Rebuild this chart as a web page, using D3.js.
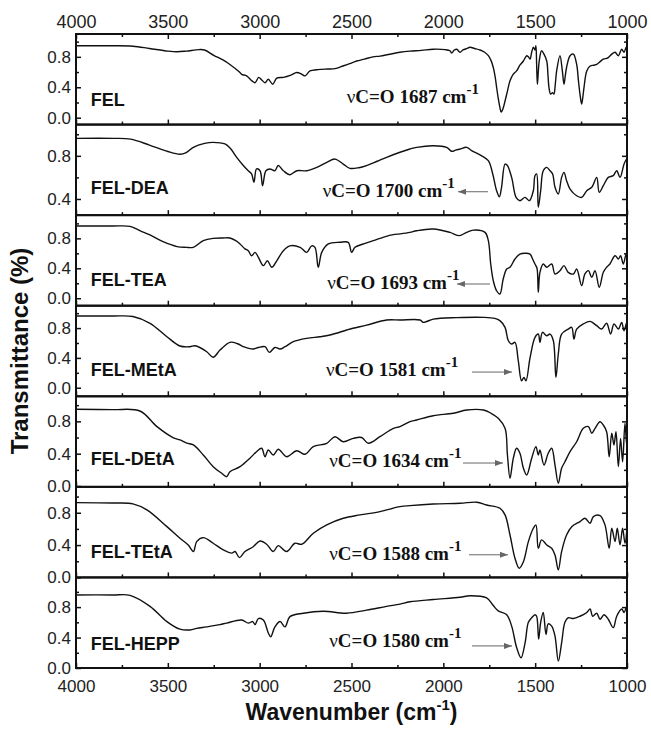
<!DOCTYPE html>
<html>
<head>
<meta charset="utf-8">
<script src="https://cdn.jsdelivr.net/npm/d3@7"></script>
<style>
body { margin: 0; background: #fff; }
</style>
</head>
<body>
<div id="container"></div>
<script>
/* Sample names, top to bottom */
const sampleNames = ["FEL", "FEL-DEA", "FEL-TEA", "FEL-MEtA", "FEL-DEtA", "FEL-TEtA", "FEL-HEPP"];
/* C=O band reported for each sample (cm-1) */
const carbonylBands = [1687, 1700, 1693, 1581, 1634, 1588, 1580];
/* x axis ticks */
const xMajorTicks = [4000, 3500, 3000, 2500, 2000, 1500, 1000];
const xMinorTicks = [3750, 3250, 2750, 2250, 1750, 1250];
/* y axis ticks */
const yMajorTicks = [0.0, 0.4, 0.8];
const yMinorTicks = [0.2, 0.6, 1.0];

/* spectra: [wavenumber, transmittance] */
const felSpectrum = [
  [4000,0.945],[3800,0.945],[3690,0.94],[3600,0.91],[3500,0.875],[3450,0.866],[3400,0.875],[3330,0.895],
  [3300,0.89],[3250,0.82],[3200,0.76],[3162,0.70],[3110,0.60],[3098,0.57],[3071,0.55],[3040,0.48],
  [3025,0.46],[3005,0.53],[2990,0.50],[2971,0.46],[2953,0.505],[2929,0.44],[2907,0.52],[2871,0.53],
  [2830,0.56],[2798,0.595],[2770,0.57],[2753,0.55],[2726,0.615],[2690,0.63],[2671,0.635],[2630,0.64],
  [2590,0.645],[2546,0.68],[2510,0.71],[2472,0.745],[2430,0.77],[2383,0.80],[2345,0.81],[2300,0.83],
  [2236,0.86],[2182,0.875],[2120,0.885],[2056,0.90],[1990,0.895],[1964,0.88],[1955,0.85],[1940,0.89],
  [1927,0.90],[1909,0.86],[1893,0.89],[1870,0.91],[1855,0.925],[1830,0.91],[1800,0.89],[1775,0.86],
  [1755,0.815],[1740,0.75],[1728,0.66],[1718,0.54],[1710,0.40],[1700,0.24],[1692,0.135],[1685,0.075],
  [1675,0.12],[1664,0.22],[1650,0.36],[1637,0.485],[1620,0.57],[1601,0.615],[1583,0.69],[1564,0.745],
  [1546,0.815],[1537,0.80],[1528,0.77],[1519,0.86],[1510,0.925],[1501,0.89],[1496,0.945],[1492,0.70],
  [1488,0.44],[1483,0.60],[1478,0.745],[1465,0.88],[1452,0.835],[1437,0.745],[1430,0.55],[1425,0.40],
  [1416,0.31],[1405,0.33],[1398,0.31],[1390,0.45],[1383,0.615],[1365,0.815],[1352,0.615],[1343,0.44],
  [1336,0.55],[1329,0.66],[1310,0.815],[1292,0.835],[1274,0.70],[1265,0.50],[1256,0.31],[1247,0.18],
  [1240,0.28],[1234,0.40],[1219,0.615],[1201,0.68],[1180,0.69],[1165,0.70],[1145,0.74],[1129,0.77],
  [1110,0.78],[1102,0.79],[1083,0.835],[1065,0.86],[1047,0.815],[1029,0.90],[1016,0.86],[1005,0.925],
  [1000,0.88]
];
const deaSpectrum = [
  [4000,0.962],[3800,0.962],[3703,0.955],[3600,0.90],[3500,0.84],[3434,0.815],[3400,0.83],[3361,0.879],
  [3300,0.915],[3253,0.925],[3189,0.91],[3160,0.87],[3125,0.786],[3089,0.71],[3062,0.662],[3044,0.632],
  [3031,0.555],[3017,0.678],[2998,0.662],[2984,0.523],[2966,0.662],[2944,0.678],[2917,0.662],[2899,0.71],
  [2871,0.662],[2835,0.625],[2798,0.662],[2744,0.662],[2689,0.693],[2635,0.74],[2590,0.77],[2545,0.724],
  [2509,0.684],[2460,0.69],[2418,0.71],[2360,0.75],[2309,0.786],[2236,0.833],[2182,0.863],[2145,0.879],
  [2055,0.894],[1982,0.879],[1955,0.842],[1930,0.855],[1909,0.863],[1873,0.879],[1846,0.848],[1791,0.80],
  [1755,0.755],[1731,0.632],[1710,0.477],[1695,0.42],[1683,0.508],[1664,0.724],[1651,0.71],[1628,0.60],
  [1604,0.415],[1583,0.384],[1555,0.415],[1532,0.384],[1510,0.477],[1501,0.616],[1492,0.632],[1483,0.323],
  [1470,0.477],[1456,0.662],[1437,0.693],[1419,0.662],[1405,0.632],[1392,0.508],[1374,0.446],[1356,0.60],
  [1343,0.647],[1329,0.57],[1310,0.492],[1274,0.43],[1247,0.415],[1219,0.477],[1192,0.508],[1165,0.60],
  [1151,0.462],[1129,0.523],[1102,0.60],[1075,0.616],[1056,0.662],[1038,0.60],[1016,0.724],[1002,0.77],
  [1000,0.72]
];
const teaSpectrum = [
  [4000,0.965],[3800,0.965],[3706,0.96],[3650,0.90],[3597,0.845],[3526,0.755],[3450,0.69],[3400,0.68],
  [3362,0.68],[3307,0.769],[3254,0.80],[3200,0.805],[3162,0.805],[3130,0.77],[3107,0.725],[3080,0.66],
  [3062,0.635],[3044,0.568],[3025,0.613],[3007,0.547],[2980,0.435],[2958,0.50],[2934,0.413],[2907,0.50],
  [2871,0.635],[2835,0.70],[2780,0.68],[2744,0.613],[2717,0.70],[2699,0.68],[2681,0.413],[2662,0.613],
  [2626,0.725],[2563,0.747],[2518,0.747],[2499,0.613],[2481,0.68],[2430,0.73],[2381,0.769],[2320,0.82],
  [2272,0.85],[2236,0.86],[2182,0.88],[2145,0.902],[2055,0.925],[1964,0.88],[1913,0.836],[1873,0.88],
  [1837,0.91],[1773,0.88],[1755,0.769],[1742,0.457],[1728,0.234],[1710,0.10],[1692,0.056],[1674,0.257],
  [1655,0.39],[1637,0.413],[1610,0.524],[1583,0.59],[1555,0.60],[1528,0.59],[1514,0.524],[1501,0.457],
  [1490,0.40],[1483,0.08],[1474,0.346],[1456,0.457],[1437,0.413],[1410,0.457],[1392,0.324],[1365,0.368],
  [1343,0.435],[1320,0.346],[1292,0.324],[1274,0.39],[1247,0.168],[1229,0.324],[1210,0.368],[1192,0.28],
  [1174,0.368],[1151,0.146],[1129,0.346],[1111,0.413],[1093,0.457],[1065,0.568],[1047,0.524],[1035,0.568],
  [1020,0.457],[1005,0.59],[1000,0.55]
];
const metaSpectrum = [
  [4000,0.962],[3800,0.962],[3690,0.955],[3597,0.864],[3505,0.684],[3434,0.56],[3380,0.55],[3352,0.563],
  [3288,0.483],[3253,0.408],[3216,0.505],[3162,0.609],[3120,0.59],[3089,0.55],[3035,0.519],[3007,0.54],
  [2971,0.55],[2947,0.474],[2917,0.54],[2889,0.519],[2862,0.55],[2817,0.617],[2744,0.662],[2671,0.684],
  [2617,0.707],[2526,0.774],[2492,0.797],[2418,0.84],[2309,0.908],[2236,0.908],[2127,0.908],[2109,0.877],
  [2055,0.92],[1927,0.94],[1782,0.944],[1720,0.93],[1692,0.90],[1664,0.81],[1646,0.63],[1628,0.586],
  [1610,0.609],[1592,0.362],[1574,0.093],[1561,0.139],[1550,0.093],[1528,0.40],[1501,0.676],[1483,0.72],
  [1474,0.609],[1460,0.743],[1437,0.697],[1419,0.72],[1401,0.63],[1387,0.139],[1374,0.452],[1356,0.72],
  [1320,0.787],[1301,0.81],[1289,0.653],[1274,0.787],[1238,0.855],[1201,0.89],[1165,0.832],[1138,0.787],
  [1111,0.864],[1089,0.72],[1071,0.855],[1047,0.787],[1029,0.877],[1016,0.765],[1002,0.877],[1000,0.85]
];
const detaSpectrum = [
  [4000,0.95],[3800,0.945],[3652,0.928],[3559,0.735],[3472,0.60],[3434,0.57],[3397,0.53],[3361,0.508],
  [3307,0.384],[3253,0.24],[3207,0.158],[3180,0.116],[3162,0.178],[3107,0.24],[3053,0.344],[3017,0.425],
  [2989,0.467],[2971,0.363],[2953,0.446],[2926,0.384],[2899,0.455],[2853,0.363],[2798,0.437],[2753,0.393],
  [2708,0.487],[2635,0.529],[2590,0.61],[2545,0.548],[2490,0.59],[2445,0.60],[2408,0.529],[2345,0.61],
  [2272,0.714],[2236,0.735],[2182,0.796],[2145,0.817],[2055,0.87],[1946,0.90],[1873,0.94],[1782,0.94],
  [1740,0.90],[1701,0.838],[1664,0.714],[1651,0.384],[1637,0.097],[1619,0.344],[1601,0.467],[1583,0.405],
  [1564,0.22],[1546,0.137],[1519,0.344],[1496,0.487],[1483,0.384],[1474,0.446],[1452,0.26],[1429,0.405],
  [1410,0.467],[1392,0.26],[1374,0.035],[1356,0.22],[1338,0.30],[1310,0.425],[1274,0.548],[1238,0.714],
  [1210,0.735],[1192,0.652],[1174,0.714],[1147,0.796],[1129,0.755],[1111,0.672],[1097,0.363],[1083,0.652],
  [1071,0.508],[1060,0.672],[1047,0.24],[1035,0.59],[1024,0.30],[1011,0.776],[1002,0.508],[1000,0.70]
];
const tetaSpectrum = [
  [4000,0.925],[3800,0.92],[3690,0.91],[3614,0.835],[3505,0.628],[3434,0.485],[3389,0.40],[3361,0.32],
  [3343,0.443],[3307,0.492],[3253,0.423],[3198,0.34],[3152,0.30],[3134,0.32],[3110,0.245],[3080,0.32],
  [3035,0.38],[2998,0.45],[2962,0.41],[2926,0.32],[2899,0.393],[2853,0.32],[2808,0.423],[2771,0.41],
  [2708,0.546],[2635,0.65],[2545,0.732],[2454,0.773],[2345,0.814],[2236,0.875],[2182,0.888],[2055,0.908],
  [1909,0.917],[1818,0.93],[1764,0.896],[1692,0.855],[1664,0.773],[1637,0.525],[1610,0.237],[1587,0.114],
  [1564,0.195],[1537,0.443],[1510,0.608],[1496,0.649],[1483,0.36],[1465,0.464],[1437,0.402],[1410,0.36],
  [1392,0.278],[1374,0.093],[1356,0.32],[1329,0.525],[1301,0.628],[1256,0.69],[1229,0.732],[1201,0.67],
  [1183,0.752],[1147,0.765],[1120,0.65],[1097,0.36],[1083,0.608],[1065,0.443],[1053,0.608],[1038,0.402],
  [1024,0.608],[1011,0.423],[1000,0.62]
];
const heppSpectrum = [
  [4000,0.96],[3800,0.96],[3706,0.955],[3597,0.81],[3505,0.61],[3434,0.51],[3379,0.50],[3343,0.52],
  [3289,0.54],[3216,0.57],[3180,0.59],[3098,0.63],[3062,0.59],[3038,0.61],[3025,0.57],[3007,0.65],
  [2980,0.63],[2953,0.46],[2940,0.41],[2917,0.54],[2889,0.61],[2862,0.54],[2835,0.675],[2762,0.72],
  [2653,0.745],[2527,0.72],[2418,0.76],[2309,0.81],[2236,0.84],[2182,0.87],[2055,0.90],[1909,0.93],
  [1855,0.95],[1764,0.92],[1728,0.82],[1701,0.75],[1655,0.70],[1628,0.55],[1601,0.27],[1577,0.135],
  [1555,0.33],[1537,0.60],[1519,0.66],[1501,0.70],[1492,0.68],[1481,0.38],[1470,0.60],[1456,0.73],
  [1441,0.44],[1429,0.58],[1410,0.55],[1392,0.42],[1374,0.09],[1356,0.33],[1338,0.60],[1320,0.66],
  [1292,0.65],[1256,0.68],[1219,0.73],[1201,0.775],[1187,0.68],[1165,0.72],[1147,0.64],[1125,0.70],
  [1102,0.64],[1075,0.53],[1056,0.68],[1029,0.775],[1016,0.73],[1002,0.81],[1000,0.78]
];
const spectra = [felSpectrum, deaSpectrum, teaSpectrum, metaSpectrum, detaSpectrum, tetaSpectrum, heppSpectrum];

/* Layout */
const WIDTH = 651, HEIGHT = 730;
const plotLeft = 76, plotRight = 627, plotTop = 34, plotBottom = 668;
const panelH = (plotBottom - plotTop) / 7;
const SANS = "'Liberation Sans', Arial, Helvetica, sans-serif";
const SERIF = "'Liberation Serif', 'Times New Roman', Times, serif";
/* per panel y range and where the texts sit (in transmittance units) */
const yDomains = [[-0.09, 1.1], [0.25, 1.09], [-0.1, 1.11], [-0.115, 1.1], [-0.01, 1.11], [0, 1.12], [0, 1.19]];
const nameLevel = [0.15, 0.443, 0.163, 0.16, 0.26, 0.237, 0.237];
const noteLevel = [0.19, 0.421, 0.123, 0.16, 0.24, 0.216, 0.27];
const noteStart = [2526, 2657, 2632, 2639, 2621, 2621, 2621];
/* arrows [from, to] in cm-1 */
const arrowSpans = [null, [1757, 1920], [1746, 1926], [1844, 1626], [1893, 1675], [1860, 1648], [1844, 1626]];
const arrowLevel = [0, 0.467, 0.19, 0.21, 0.285, 0.28, 0.29];

const svg = d3.select("#container").append("svg")
  .attr("width", WIDTH).attr("height", HEIGHT)
  .style("background", "#fff");

const defs = svg.append("defs");
defs.append("marker")
  .attr("id", "head").attr("markerUnits", "userSpaceOnUse")
  .attr("markerWidth", 8).attr("markerHeight", 6)
  .attr("refX", 8).attr("refY", 3).attr("orient", "auto")
  .append("path").attr("d", "M0,0 L8,3 L0,6 Z").attr("fill", "#666");

const x = d3.scaleLinear().domain([4000, 1000]).range([plotLeft, plotRight]);

sampleNames.forEach((name, i) => {
  const p0 = plotTop + i * panelH, p1 = p0 + panelH;
  const y = d3.scaleLinear().domain(yDomains[i]).range([p1, p0]);
  const inDomain = (v) => v >= yDomains[i][0] && v <= yDomains[i][1];
  const g = svg.append("g");

  defs.append("clipPath").attr("id", "clip" + i)
    .append("rect").attr("x", plotLeft).attr("y", p0).attr("width", plotRight - plotLeft).attr("height", panelH);

  // spectrum
  const line = d3.line().x(d => x(d[0])).y(d => y(d[1])).curve(d3.curveCatmullRom.alpha(0.5));
  g.append("path").datum(spectra[i])
    .attr("clip-path", "url(#clip" + i + ")")
    .attr("d", line).attr("fill", "none")
    .attr("stroke", "#111").attr("stroke-width", 1.4).attr("stroke-linejoin", "round");

  // y axes left/right with inward ticks
  const majors = yMajorTicks.filter(inDomain), minors = yMinorTicks.filter(inDomain);
  const yl = g.append("g").attr("transform", `translate(${plotLeft},0)`)
    .call(d3.axisLeft(y).tickValues(majors).tickSize(-5).tickPadding(5).tickFormat(d3.format(".1f")));
  yl.selectAll("text").attr("font-family", SANS).attr("font-size", 17).attr("fill", "#222");
  g.append("g").attr("transform", `translate(${plotLeft},0)`)
    .call(d3.axisLeft(y).tickValues(minors).tickSize(-3).tickFormat(""));
  g.append("g").attr("transform", `translate(${plotRight},0)`)
    .call(d3.axisRight(y).tickValues(majors).tickSize(-5).tickFormat(""));
  g.append("g").attr("transform", `translate(${plotRight},0)`)
    .call(d3.axisRight(y).tickValues(minors).tickSize(-3).tickFormat(""));

  // bottom edge ticks pointing up
  g.append("g").attr("transform", `translate(0,${p1})`)
    .call(d3.axisBottom(x).tickValues(xMajorTicks).tickSize(-5).tickFormat(""));
  g.append("g").attr("transform", `translate(0,${p1})`)
    .call(d3.axisBottom(x).tickValues(xMinorTicks).tickSize(-3).tickFormat(""));

  g.selectAll(".domain").remove();
  g.selectAll(".tick line").attr("stroke", "#111").attr("stroke-width", 1.5);

  // frame
  g.append("rect").attr("x", plotLeft).attr("y", p0).attr("width", plotRight - plotLeft).attr("height", panelH)
    .attr("fill", "none").attr("stroke", "#111").attr("stroke-width", 2);

  // sample name
  g.append("text").attr("x", x(3920)).attr("y", y(nameLevel[i]))
    .attr("font-family", SANS).attr("font-weight", "bold").attr("font-size", 18).attr("fill", "#111")
    .text(name);

  // carbonyl note
  const note = g.append("text").attr("x", x(noteStart[i])).attr("y", y(noteLevel[i]))
    .attr("font-family", SERIF).attr("font-size", 19).attr("fill", "#111");
  note.append("tspan").attr("font-weight", "normal").text("\u03BD");
  note.append("tspan").attr("font-weight", "bold").text("C=O " + carbonylBands[i] + " cm");
  note.append("tspan").attr("font-weight", "bold").attr("font-size", 15).attr("dy", -9).text("-1");

  // arrow
  if (arrowSpans[i]) {
    g.append("line")
      .attr("x1", x(arrowSpans[i][0])).attr("x2", x(arrowSpans[i][1]))
      .attr("y1", y(arrowLevel[i])).attr("y2", y(arrowLevel[i]))
      .attr("stroke", "#666").attr("stroke-width", 1)
      .attr("marker-end", "url(#head)");
  }
});

// top axis with labels
const topAxis = svg.append("g").attr("transform", `translate(0,${plotTop})`)
  .call(d3.axisTop(x).tickValues(xMajorTicks).tickSize(-5).tickPadding(6).tickFormat(d3.format("d")));
svg.append("g").attr("transform", `translate(0,${plotTop})`)
  .call(d3.axisTop(x).tickValues(xMinorTicks).tickSize(-3).tickFormat(""));
// bottom labels
const botAxis = svg.append("g").attr("transform", `translate(0,${plotBottom})`)
  .call(d3.axisBottom(x).tickValues(xMajorTicks).tickSize(0).tickPadding(12).tickFormat(d3.format("d")));
svg.selectAll(".domain").remove();
svg.selectAll(".tick line").attr("stroke", "#111").attr("stroke-width", 1.5);
topAxis.selectAll("text").attr("font-family", SANS).attr("font-size", 18).attr("fill", "#222");
botAxis.selectAll("text").attr("font-family", SANS).attr("font-size", 17).attr("fill", "#222");

// axis titles
const xt = svg.append("text").attr("x", (plotLeft + plotRight) / 2).attr("y", 720)
  .attr("text-anchor", "middle").attr("font-family", SANS).attr("font-weight", "bold")
  .attr("font-size", 23).attr("fill", "#111");
xt.append("tspan").text("Wavenumber (cm");
xt.append("tspan").attr("font-size", 15).attr("dy", -10).text("-1");
xt.append("tspan").attr("dy", 10).text(")");

svg.append("text")
  .attr("transform", `translate(28,${(plotTop + plotBottom) / 2}) rotate(-90)`)
  .attr("text-anchor", "middle").attr("font-family", SANS).attr("font-weight", "bold")
  .attr("font-size", 24).attr("fill", "#111")
  .text("Transmittance (%)");
</script>
</body>
</html>
